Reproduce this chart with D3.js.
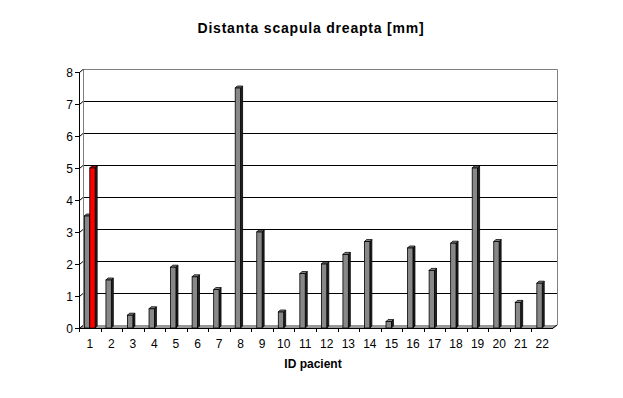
<!DOCTYPE html>
<html>
<head>
<meta charset="utf-8">
<script src="https://cdn.jsdelivr.net/npm/d3@7"></script>
<style>
  body { margin: 0; background: #fff; }
  svg { display: block; font-family: "Liberation Sans", Arial, sans-serif; }
</style>
</head>
<body>
<svg id="chart" width="623" height="398"></svg>
<script>
// date
var pacienti = ['1','2','3','4','5','6','7','8','9','10','11','12','13','14','15','16','17','18','19','20','21','22'];
var serieGri = [3.5, 1.5, 0.4, 0.6, 1.9, 1.6, 1.2, 7.5, 3.0, 0.5, 1.7, 2.0, 2.3, 2.7, 0.2, 2.5, 1.8, 2.65, 5.0, 2.7, 0.8, 1.4];
var serieRosie = [5.0, null, null, null, null, null, null, null, null, null, null, null, null, null, null, null, null, null, null, null, null, null];
var yTicks = [0, 1, 2, 3, 4, 5, 6, 7, 8];
var serii = [
  { name: 'gri', values: serieGri, color: '#888888' },
  { name: 'rosu', values: serieRosie, color: '#ff0000' }
];

var svg = d3.select('#chart');
var pLeft = 79, pRight = 553, pBottom = 328, pTop = 72;
var dx = 4, dy = -3;   // adancimea peretelui din spate

var x = d3.scaleBand().domain(pacienti).range([pLeft, pRight]).paddingInner(0.5).paddingOuter(0.25);
var xStep = d3.scaleBand().domain(pacienti).range([pLeft, pRight]);
var xs = d3.scaleBand().domain(serii.map(function(s){ return s.name; })).range([0, x.bandwidth()]);
var y = d3.scaleLinear().domain([0, 8]).range([pBottom, pTop]);

// titlu
svg.append('text')
  .attr('x', 311).attr('y', 33)
  .attr('text-anchor', 'middle')
  .style('font-size', '14px').style('font-weight', 'bold').style('letter-spacing', '0.8px')
  .text('Distanta scapula dreapta [mm]');

// podea
svg.append('polygon')
  .attr('points', [[pLeft, pBottom], [pRight, pBottom], [pRight + dx, pBottom + dy], [pLeft + dx, pBottom + dy]].join(' '))
  .attr('fill', '#999999');

// linii de grila pe peretele din spate
svg.append('g').selectAll('line').data(yTicks.slice(1)).enter().append('line')
  .attr('x1', pLeft + dx).attr('x2', pRight + dx)
  .attr('y1', function(d){ return Math.round(y(d) + dy) + 0.5; }).attr('y2', function(d){ return Math.round(y(d) + dy) + 0.5; })
  .attr('stroke', '#000').attr('stroke-width', 1);

// marginea peretelui
svg.append('path')
  .attr('d', 'M' + (pLeft + dx + 0.5) + ',' + (pBottom + dy) + 'V' + (pTop + dy + 0.5) + 'H' + (pRight + dx + 0.5) + 'V' + (pBottom + dy) + 'L' + pRight + ',' + pBottom)
  .attr('fill', 'none').attr('stroke', '#808080');

// axa Y
var gy = svg.append('g');
gy.append('line').attr('x1', pLeft + 0.5).attr('x2', pLeft + 0.5).attr('y1', pTop).attr('y2', pBottom)
  .attr('stroke', '#000');
gy.selectAll('.tk').data(yTicks).enter().append('path')
  .attr('d', function(d){ return 'M' + (pLeft - 4) + ',' + (y(d) + 0.5) + 'H' + (pLeft + 0.5) + 'L' + (pLeft + dx) + ',' + (y(d) + dy + 0.5); })
  .attr('fill', 'none').attr('stroke', '#000');
gy.selectAll('text').data(yTicks).enter().append('text')
  .attr('x', pLeft - 6).attr('y', function(d){ return y(d) + 4.5; })
  .attr('text-anchor', 'end').style('font-size', '12px')
  .text(function(d){ return d; });

// axa X
var gx = svg.append('g');
gx.append('line').attr('x1', pLeft).attr('x2', pRight).attr('y1', pBottom + 0.5).attr('y2', pBottom + 0.5).attr('stroke', '#000');
gx.selectAll('.tk').data(pacienti.concat(['end'])).enter().append('line')
  .attr('x1', function(d){ return d === 'end' ? pRight : Math.round(xStep(d)) + 0.5; })
  .attr('x2', function(d){ return d === 'end' ? pRight + dx : Math.round(xStep(d)) + 0.5; })
  .attr('y1', pBottom)
  .attr('y2', function(d){ return d === 'end' ? pBottom + dy : pBottom + 4; })
  .attr('stroke', '#000');
gx.selectAll('text').data(pacienti).enter().append('text')
  .attr('x', function(d){ return xStep(d) + xStep.bandwidth() / 2; })
  .attr('y', 348)
  .attr('text-anchor', 'middle').style('font-size', '12px')
  .text(function(d){ return d; });

svg.append('text')
  .attr('x', 313).attr('y', 368)
  .attr('text-anchor', 'middle')
  .style('font-size', '12px').style('font-weight', 'bold')
  .text('ID pacient');

// bare 3D
var bd = 2;
serii.forEach(function(s){
  var g = svg.append('g');
  var data = pacienti.map(function(p, i){ return { p: p, v: s.values[i] }; }).filter(function(d){ return d.v != null; });
  var bars = g.selectAll('g').data(data).enter().append('g');
  var w = xs.bandwidth();
  bars.append('path') // latura
    .attr('d', function(d){
      var x0 = x(d.p) + xs(s.name) + w, y0 = y(d.v);
      return 'M' + x0 + ',' + pBottom + 'V' + y0 + 'L' + (x0 + bd) + ',' + (y0 - bd) + 'V' + (pBottom - bd) + 'Z';
    })
    .attr('fill', '#222').attr('stroke', '#000').attr('stroke-width', 0.8);
  bars.append('path') // capac
    .attr('d', function(d){
      var x0 = x(d.p) + xs(s.name), y0 = y(d.v);
      return 'M' + x0 + ',' + y0 + 'L' + (x0 + bd) + ',' + (y0 - bd) + 'H' + (x0 + w + bd) + 'L' + (x0 + w) + ',' + y0 + 'Z';
    })
    .attr('fill', s.color).attr('stroke', '#000').attr('stroke-width', 0.8);
  bars.append('rect') // fata
    .attr('x', function(d){ return x(d.p) + xs(s.name); })
    .attr('y', function(d){ return y(d.v); })
    .attr('width', w)
    .attr('height', function(d){ return pBottom - y(d.v); })
    .attr('fill', s.color).attr('stroke', '#000').attr('stroke-width', 0.8);
});
</script>
</body>
</html>
